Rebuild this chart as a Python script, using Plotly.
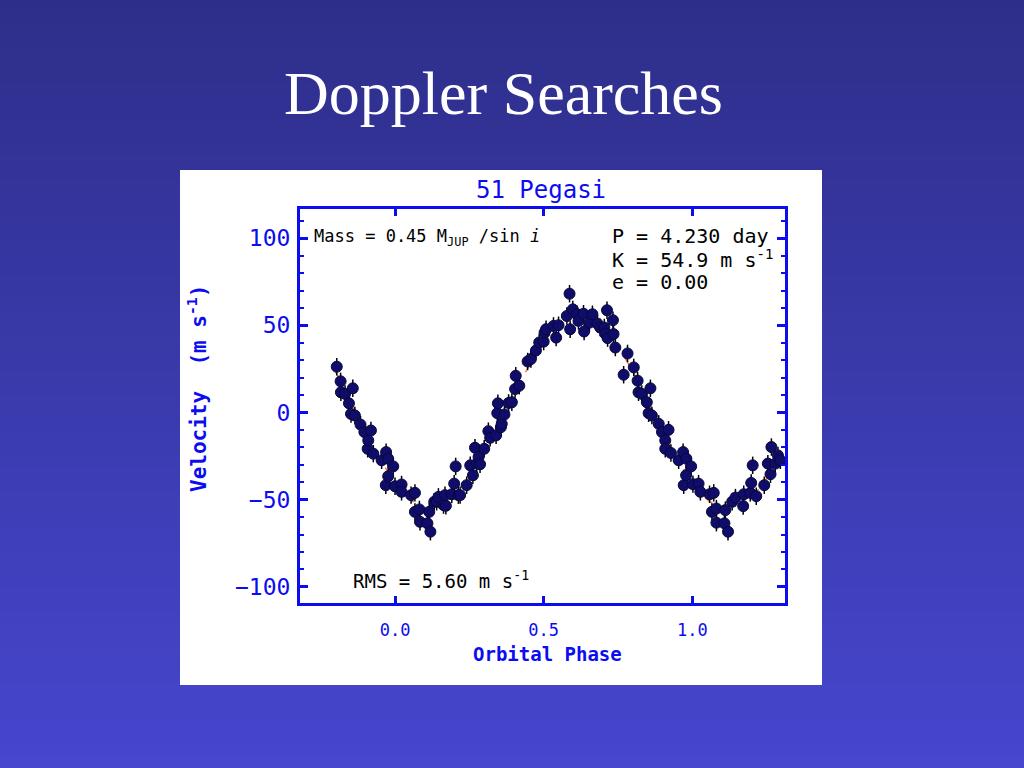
import plotly.graph_objects as go

# ---- data ----
phase = [
    -0.196, -0.183, -0.182, -0.168, -0.155, -0.148, -0.142, -0.135, -0.116, -0.103,
    -0.092, -0.090, -0.081, -0.073, -0.045, -0.031, -0.030, -0.023, -0.023, -0.006,
    0.000, 0.022, 0.022, 0.054, 0.067, 0.067, 0.082, 0.084, 0.109, 0.115,
    0.119, 0.132, 0.140, 0.146, 0.163, 0.168, 0.171, 0.191, 0.199, 0.204,
    0.213, 0.219, 0.241, 0.253, 0.262, 0.269, 0.275, 0.281, 0.286, 0.300,
    0.314, 0.320, 0.340, 0.344, 0.346, 0.356, 0.359, 0.368, 0.382, 0.393,
    0.404, 0.406, 0.418, 0.446, 0.457, 0.474, 0.485, 0.500, 0.503, 0.508,
    0.533, 0.542, 0.550, 0.578, 0.587, 0.589, 0.598, 0.612, 0.617, 0.634,
    0.636, 0.654, 0.664, 0.681, 0.690, 0.704, 0.707, 0.713, 0.715, 0.733,
    0.735, 0.741, 0.769, 0.782, 0.803, 0.816, 0.819, 0.830, 0.847, 0.853,
    0.859, 0.864, 0.887, 0.898, 0.909, 0.909, 0.920, 0.928, 0.954, 0.969,
    0.971, 0.979, 0.980, 0.996, 1.002, 1.021, 1.027, 1.058, 1.066, 1.072,
    1.081, 1.081, 1.108, 1.111, 1.120, 1.134, 1.145, 1.171, 1.173, 1.195,
    1.198, 1.203, 1.215, 1.242, 1.254, 1.263, 1.266, 1.279, 1.288, 1.296,
]
velocity = [
    26.3, 17.9, 11.6, 10.7, 5.3, -0.8, 13.9, -1.7, -6.9, -11.2,
    -20.8, -16.0, -10.3, -23.6, -27.4, -41.7, -22.7, -26.5, -36.6, -30.9,
    -42.3, -41.3, -45.5, -47.4, -46.1, -57.0, -55.6, -62.7, -63.6, -57.0,
    -68.4, -51.2, -51.2, -48.4, -53.1, -47.4, -53.5, -46.9, -40.8, -30.9,
    -47.4, -47.4, -41.7, -30.3, -36.0, -20.2, -29.3, -25.5, -29.7, -20.8,
    -10.7, -14.5, -13.1, -0.4, 5.3, -8.4, -6.5, -1.1, 5.5, 5.9,
    13.5, 21.1, 15.4, 29.3, 30.7, 35.6, 40.2, 40.7, 45.9, 47.8,
    49.7, 43.0, 50.1, 55.4, 68.2, 47.8, 59.2, 56.4, 52.6, 56.7,
    46.5, 51.6, 56.4, 51.0, 48.8, 48.8, 45.3, 58.7, 42.7, 53.0,
    45.0, 37.3, 21.7, 33.9, 25.9, 18.3, 11.6, 10.7, 5.9, -0.4,
    13.9, -1.7, -6.5, -11.2, -16.0, -20.8, -9.9, -23.2, -27.4, -22.7,
    -41.7, -36.0, -26.5, -30.9, -41.1, -40.8, -45.5, -46.9, -57.0, -46.1,
    -55.1, -63.2, -63.6, -56.0, -68.4, -51.2, -48.8, -53.7, -46.9, -46.1,
    -40.4, -30.3, -48.0, -41.7, -29.3, -35.4, -19.8, -29.3, -24.6, -27.4,
]
velocity_error = 5.0

# orbit fit (dashed orange curve)
fit_phase = [
    -0.20, -0.15, -0.10, -0.05, 0.00, 0.05, 0.10, 0.15, 0.20, 0.25, 0.30,
    0.35, 0.40, 0.45, 0.50, 0.55, 0.60, 0.65, 0.70, 0.75, 0.80,
    0.85, 0.90, 0.95, 1.00, 1.05, 1.10, 1.15, 1.20, 1.25, 1.30,
]
fit_velocity = [
    23.4, 6.9, -10.3, -26.5, -40.1, -49.8, -54.6, -54.0, -48.2, -37.7, -23.4,
    -6.9, 10.3, 26.5, 40.1, 49.8, 54.6, 54.0, 48.2, 37.7, 23.4,
    6.9, -10.3, -26.5, -40.1, -49.8, -54.6, -54.0, -48.2, -37.7, -23.4,
]

x_ticks = [0.0, 0.5, 1.0]
x_tick_labels = ["0.0", "0.5", "1.0"]
y_ticks = [-100, -50, 0, 50, 100]
y_tick_labels = ["\u2212100", "\u221250", "0", "50", "100"]

slide_title = "Doppler Searches"
chart_title = "51 Pegasi"
x_title = "Orbital Phase"
y_title = "Velocity  (m s<sup>-1</sup>)"
note_mass = "Mass = 0.45 M<sub>JUP</sub> /sin <i>i</i>"
note_p = "P = 4.230 day"
note_k = "K = 54.9 m s<sup>-1</sup>"
note_e = "e = 0.00"
note_rms = "RMS = 5.60 m s<sup>-1</sup>"

# ---- figure ----
W, H = 1024, 768
AX_BLUE = "#0c0cf0"
FONT = "DejaVu Sans Mono"


def px(x):
    return x / W


def py(y):
    return 1 - y / H


fig = go.Figure()

fig.add_trace(go.Scatter(
    x=fit_phase, y=fit_velocity, mode="lines",
    line=dict(color="#ff7a30", width=1.5, dash="dash", shape="spline"),
    hoverinfo="skip", showlegend=False,
))
fig.add_trace(go.Scatter(
    x=phase, y=velocity, mode="markers",
    marker=dict(size=11, color="#100c6a", line=dict(color="#08083a", width=1)),
    error_y=dict(type="constant", value=velocity_error, color="#000000",
                 thickness=1.5, width=0),
    showlegend=False,
))

# slide background gradient
shapes = []
top = (46, 46, 138)
bot = (70, 70, 206)
n = 64
for i in range(n):
    t = i / (n - 1)
    c = tuple(int(round(top[k] + (bot[k] - top[k]) * t)) for k in range(3))
    shapes.append(dict(
        type="rect", xref="paper", yref="paper", layer="below",
        x0=-0.01, x1=1.01, y0=1 - (i + 1) / n - 0.002, y1=1 - i / n + 0.002,
        fillcolor="rgb(%d,%d,%d)" % c, line=dict(width=0),
    ))
# white chart card
shapes.append(dict(
    type="rect", xref="paper", yref="paper", layer="below",
    x0=px(180), x1=px(822), y0=py(685), y1=py(170),
    fillcolor="white", line=dict(width=0),
))

annotations = [
    dict(text=slide_title, x=px(503), y=py(93), xref="paper", yref="paper",
         showarrow=False, font=dict(family="Liberation Serif", size=62, color="white"),
         xanchor="center", yanchor="middle"),
    dict(text=chart_title, x=px(541), y=py(190), xref="paper", yref="paper",
         showarrow=False, font=dict(family=FONT, size=24, color=AX_BLUE),
         xanchor="center", yanchor="middle"),
    dict(text="<b>" + x_title + "</b>", x=px(547), y=py(654), xref="paper", yref="paper",
         showarrow=False, font=dict(family=FONT, size=19, color=AX_BLUE),
         xanchor="center", yanchor="middle"),
    dict(text="<b>" + y_title + "</b>", x=px(197), y=py(389), xref="paper", yref="paper",
         showarrow=False, textangle=-90, font=dict(family=FONT, size=21, color=AX_BLUE),
         xanchor="center", yanchor="middle"),
    dict(text=note_mass, x=px(312), y=py(238), xref="paper", yref="paper",
         showarrow=False, font=dict(family=FONT, size=17, color="black"),
         xanchor="left", yanchor="middle"),
    dict(text=note_p, x=px(610), y=py(236), xref="paper", yref="paper",
         showarrow=False, font=dict(family=FONT, size=20, color="black"),
         xanchor="left", yanchor="middle"),
    dict(text=note_k, x=px(610), y=py(259), xref="paper", yref="paper",
         showarrow=False, font=dict(family=FONT, size=20, color="black"),
         xanchor="left", yanchor="middle"),
    dict(text=note_e, x=px(610), y=py(282), xref="paper", yref="paper",
         showarrow=False, font=dict(family=FONT, size=20, color="black"),
         xanchor="left", yanchor="middle"),
    dict(text=note_rms, x=px(351), y=py(580), xref="paper", yref="paper",
         showarrow=False, font=dict(family=FONT, size=19, color="black"),
         xanchor="left", yanchor="middle"),
]

fig.update_layout(
    width=W, height=H,
    margin=dict(l=0, r=0, t=0, b=0),
    paper_bgcolor="rgb(58,58,172)",
    plot_bgcolor="rgba(0,0,0,0)",
    shapes=shapes,
    annotations=annotations,
    xaxis=dict(
        domain=[px(300), px(785)],
        range=[-0.3196, 1.3117],
        tickmode="array", tickvals=x_ticks, ticktext=x_tick_labels,
        ticks="inside", ticklen=7, tickwidth=3, tickcolor=AX_BLUE,
        showline=True, linecolor=AX_BLUE, linewidth=3, mirror="ticks",
        showgrid=False, zeroline=False,
        tickfont=dict(family=FONT, size=17, color=AX_BLUE),
        ticklabelstandoff=10,
    ),
    yaxis=dict(
        domain=[py(603), py(209)],
        range=[-109.3, 116.8],
        tickmode="array", tickvals=y_ticks, ticktext=y_tick_labels,
        ticks="inside", ticklen=8, tickwidth=3, tickcolor=AX_BLUE,
        minor=dict(dtick=10, tick0=0, ticks="inside", ticklen=4, tickwidth=2,
                   tickcolor=AX_BLUE, showgrid=False),
        showline=True, linecolor=AX_BLUE, linewidth=3, mirror="ticks",
        showgrid=False, zeroline=False,
        tickfont=dict(family=FONT, size=23, color=AX_BLUE),
        ticklabelstandoff=2,
    ),
)

fig.write_html(
    "out.html",
    config={"displayModeBar": False},
    post_script="document.body.style.margin='0';document.body.style.overflow='hidden';",
)
